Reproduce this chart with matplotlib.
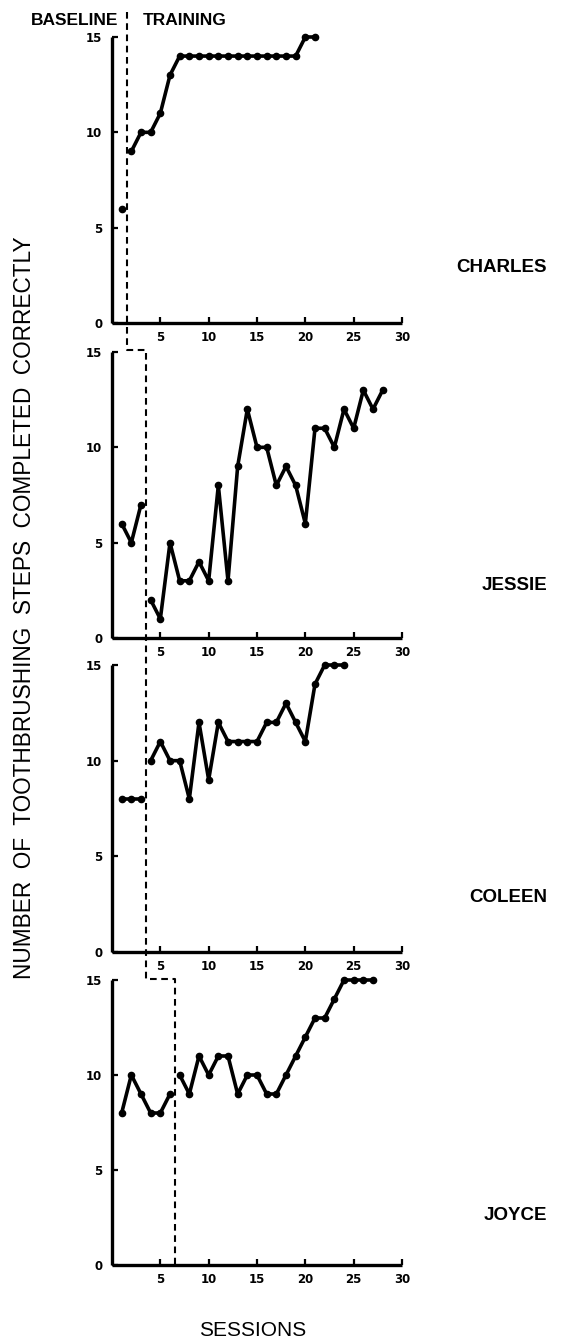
import matplotlib
matplotlib.use("Agg")
import matplotlib.pyplot as plt
from matplotlib.lines import Line2D

# ---------------- data ----------------
names = ["CHARLES", "JESSIE", "COLEEN", "JOYCE"]

charles_base_x = [1]
charles_base_y = [6]
charles_train_x = list(range(2, 22))
charles_train_y = [9, 10, 10, 11, 13, 14, 14, 14, 14, 14, 14, 14, 14, 14, 14, 14, 14, 14, 15, 15]

jessie_base_x = [1, 2, 3]
jessie_base_y = [6, 5, 7]
jessie_train_x = list(range(4, 29))
jessie_train_y = [2, 1, 5, 3, 3, 4, 3, 8, 3, 9, 12, 10, 10, 8, 9, 8, 6, 11, 11, 10, 12, 11, 13, 12, 13]

coleen_base_x = [1, 2, 3]
coleen_base_y = [8, 8, 8]
coleen_train_x = list(range(4, 25))
coleen_train_y = [10, 11, 10, 10, 8, 12, 9, 12, 11, 11, 11, 11, 12, 12, 13, 12, 11, 14, 15, 15, 15]

joyce_base_x = [1, 2, 3, 4, 5, 6]
joyce_base_y = [8, 10, 9, 8, 8, 9]
joyce_train_x = list(range(7, 28))
joyce_train_y = [10, 9, 11, 10, 11, 11, 9, 10, 10, 9, 9, 10, 11, 12, 13, 13, 14, 15, 15, 15, 15]

phase_change = [1.5, 3.5, 3.5, 6.5]   # session boundary per participant

x_ticks = [5, 10, 15, 20, 25, 30]
y_ticks = [0, 5, 10, 15]

series = [
    (charles_base_x, charles_base_y, charles_train_x, charles_train_y),
    (jessie_base_x, jessie_base_y, jessie_train_x, jessie_train_y),
    (coleen_base_x, coleen_base_y, coleen_train_x, coleen_train_y),
    (joyce_base_x, joyce_base_y, joyce_train_x, joyce_train_y),
]

# ---------------- layout ----------------
W, H = 562, 1342
fig = plt.figure(figsize=(W / 100, H / 100), dpi=100)

left_px, right_px = 112, 402
panel_px = [(37, 323), (352, 638), (665, 952), (980, 1265)]  # (top, bottom) in pixels
name_y_px = [267, 585, 897, 1215]

tick_font = dict(family="DejaVu Sans", weight="bold", size=8.5)

axes = []
for i, ((top, bot), (bx, by, tx, ty)) in enumerate(zip(panel_px, series)):
    ax = fig.add_axes([left_px / W, 1 - bot / H, (right_px - left_px) / W, (bot - top) / H])
    axes.append(ax)
    kw = dict(color="black", lw=2.6, marker="o", ms=4.5, clip_on=False, solid_joinstyle="round")
    ax.plot(bx, by, **kw)
    ax.plot(tx, ty, **kw)
    ax.set_xlim(0, 30)
    ax.set_ylim(0, 15)
    ax.set_xticks(x_ticks)
    ax.set_yticks(y_ticks)
    ax.set_xticklabels([str(t) for t in x_ticks], fontdict=tick_font)
    ax.set_yticklabels([str(t) for t in y_ticks], fontdict=tick_font)
    for s in ["top", "right"]:
        ax.spines[s].set_visible(False)
    for s in ["left", "bottom"]:
        ax.spines[s].set_linewidth(2.4)
        ax.spines[s].set_capstyle("butt")
    ax.tick_params(axis="both", direction="in", length=4.5, width=1.6, pad=7)
    ax.tick_params(axis="x", pad=5.5)
    fig.text(547 / W, 1 - name_y_px[i] / H, names[i], ha="right", va="center",
             family="Liberation Sans", weight="bold", fontsize=13.5)

# ---------------- phase-change dashed staircase ----------------
fig.canvas.draw()
inv = fig.transFigure.inverted()

def fx(ax, x):
    return inv.transform(ax.transData.transform((x, 0)))[0]

def fy_data(ax, y):
    return inv.transform(ax.transData.transform((0, y)))[1]

y_top = 1 - 12 / H
y_h1 = 1 - 350 / H
y_h2 = 1 - 979 / H
x1 = fx(axes[0], phase_change[0])
x2 = fx(axes[1], phase_change[1])
x3 = fx(axes[3], phase_change[3])
y_end = fy_data(axes[3], 0)
xs = [x1, x1, x2, x2, x3, x3]
ys = [y_top, y_h1, y_h1, y_h2, y_h2, y_end]
fig.lines.append(Line2D(xs, ys, transform=fig.transFigure, color="black",
                        lw=1.5, linestyle=(0, (3.2, 2.2))))

# ---------------- labels ----------------
fig.text(118 / W, 1 - 20.5 / H, "BASELINE", ha="right", va="center",
         family="Liberation Sans", weight="bold", fontsize=12.5)
fig.text(143 / W, 1 - 20.5 / H, "TRAINING", ha="left", va="center",
         family="Liberation Sans", weight="bold", fontsize=12.5)
fig.text(25 / W, 1 - 608 / H, "NUMBER  OF  TOOTHBRUSHING  STEPS  COMPLETED  CORRECTLY",
         rotation=90, ha="center", va="center", family="Liberation Sans", fontsize=16.3)
fig.text(253 / W, 1 - 1330 / H, "SESSIONS", ha="center", va="center",
         family="Liberation Sans", fontsize=15)

fig.savefig("out.png", dpi=100)
